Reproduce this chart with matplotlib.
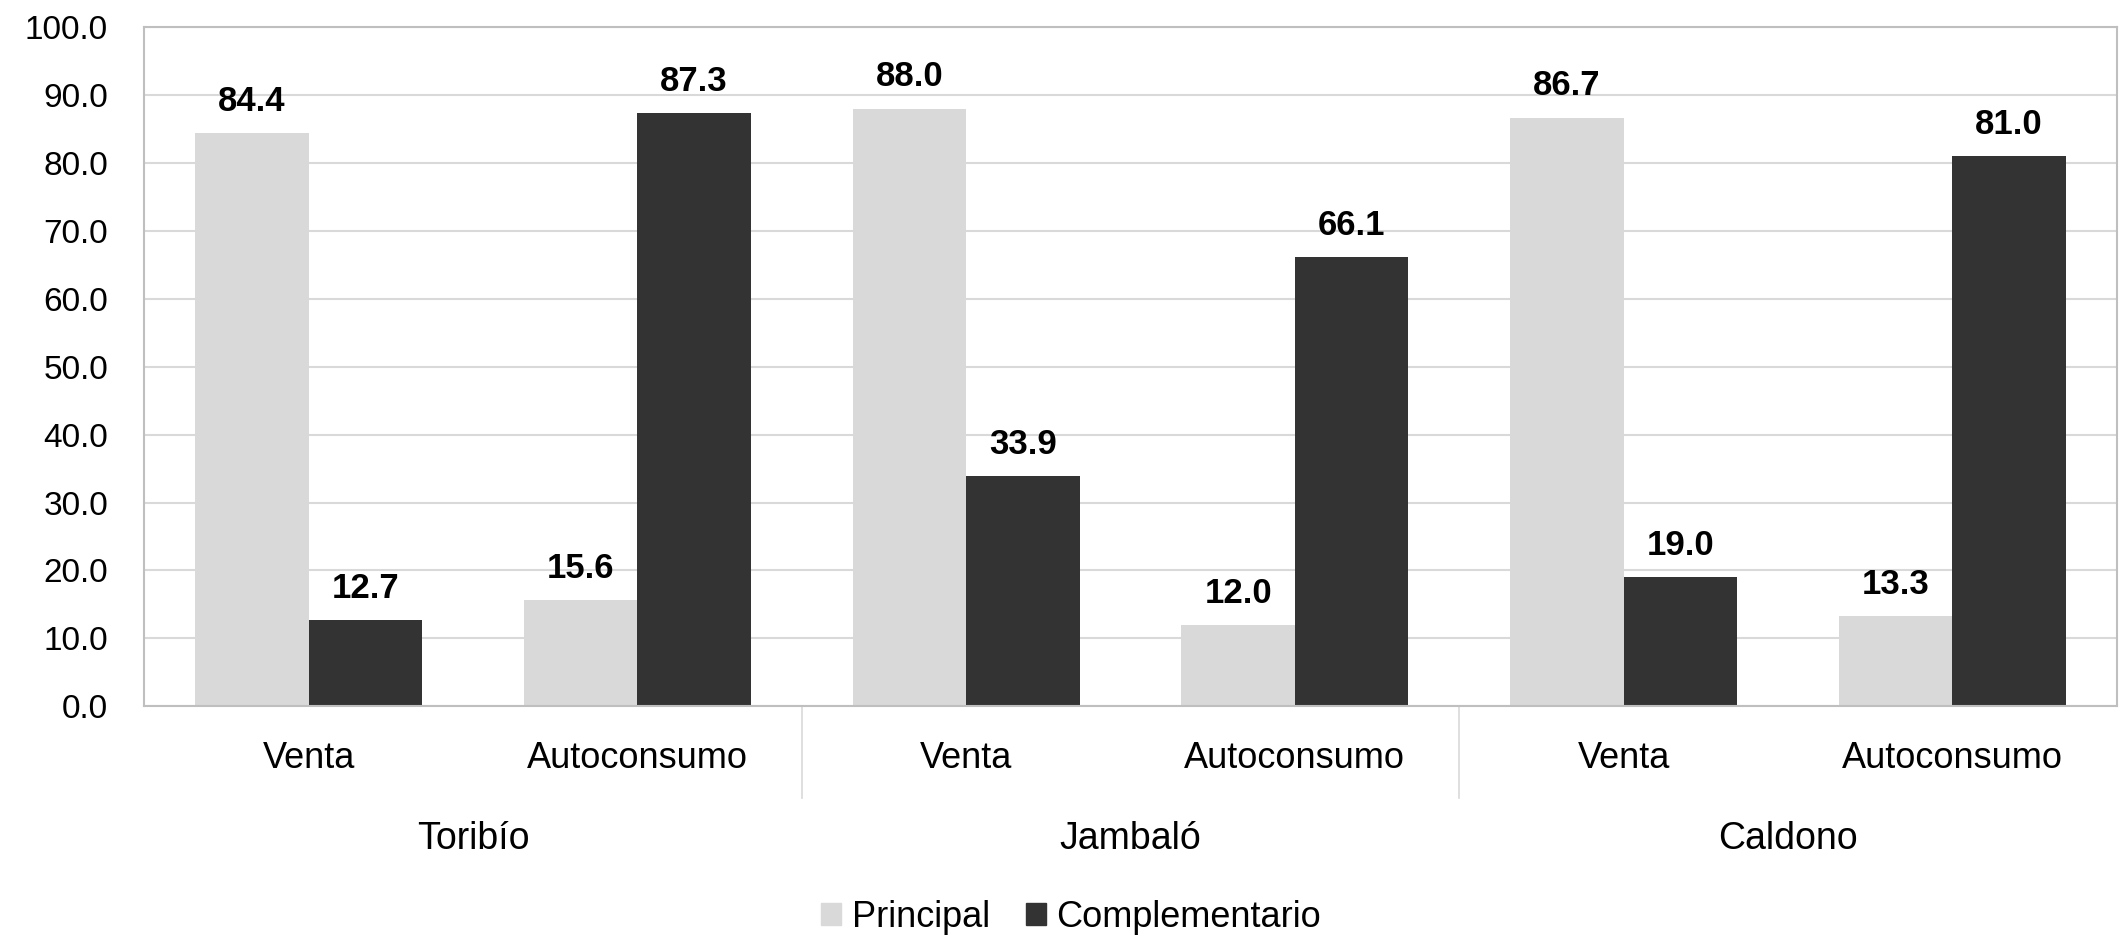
import numpy as np
import matplotlib.pyplot as plt
from matplotlib.transforms import blended_transform_factory
from matplotlib.patches import Patch

plt.rcParams['font.family'] = ['Liberation Sans', 'DejaVu Sans']

groups = ['Toribío', 'Jambaló', 'Caldono']
categories = ['Venta', 'Autoconsumo', 'Venta', 'Autoconsumo', 'Venta', 'Autoconsumo']
principal = [84.4, 15.6, 88.0, 12.0, 86.7, 13.3]
complementario = [12.7, 87.3, 33.9, 66.1, 19.0, 81.0]
series_names = ['Principal', 'Complementario']

c_light = '#d9d9d9'
c_dark = '#333333'
grid_c = '#d9d9d9'

fig = plt.figure(figsize=(21.21, 9.38), dpi=100)
ax = fig.add_axes([0.068, 0.247, 0.93, 0.724])

x = np.arange(len(categories))
w = 0.345
b1 = ax.bar(x - w / 2, principal, w, color=c_light, zorder=2)
b2 = ax.bar(x + w / 2, complementario, w, color=c_dark, zorder=2)

for bars, vals in ((b1, principal), (b2, complementario)):
    for r, v in zip(bars, vals):
        ax.annotate(f'{v:.1f}', (r.get_x() + r.get_width() / 2, v),
                    xytext=(0, 11), textcoords='offset points',
                    ha='center', va='bottom', fontsize=25, fontweight='bold')

ax.set_ylim(0, 100)
ax.set_xlim(-0.5, len(categories) - 0.5)
ax.set_yticks(np.arange(0, 101, 10))
ax.set_yticklabels([f'{t:.1f}' for t in np.arange(0, 101, 10)], fontsize=24)
ax.set_xticks(x)
ax.set_xticklabels(categories, fontsize=26)
ax.tick_params(axis='x', length=0, pad=25)
ax.tick_params(axis='y', length=0, pad=26)
ax.yaxis.grid(True, color=grid_c, lw=1.5, zorder=0)
ax.set_axisbelow(True)
for s in ax.spines.values():
    s.set_color('#bfbfbf')
    s.set_linewidth(1.5)

# multi-level category axis
trans = blended_transform_factory(ax.transData, ax.transAxes)
for i, g in enumerate(groups):
    ax.text(2 * i + 0.5, -0.196, g, transform=trans, ha='center', va='center', fontsize=27)
for b in [1.5, 3.5]:
    ax.plot([b, b], [0, -0.135], transform=trans, color='#d9d9d9', lw=1.2, clip_on=False)

handles = [Patch(color=c_light), Patch(color=c_dark)]
fig.legend(handles, series_names, loc='center', bbox_to_anchor=(0.505, 0.022),
           ncol=2, frameon=False, fontsize=26, handlelength=0.55, handleheight=0.55,
           handletextpad=0.3, columnspacing=1.0)

fig.savefig('out.png', dpi=100, facecolor='white')
